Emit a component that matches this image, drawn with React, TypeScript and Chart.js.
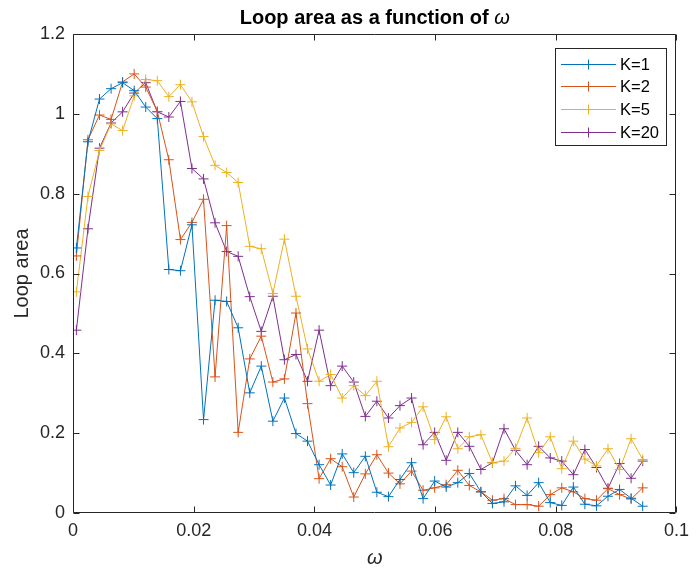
import React, { useEffect, useRef } from "react";
import { Chart, registerables } from "chart.js";

Chart.register(...registerables);

const omega = [
  0.00056, 0.00248, 0.00439, 0.00631, 0.00822, 0.01014, 0.01205, 0.01397, 0.01588, 0.0178,
  0.01971, 0.02163, 0.02354, 0.02546, 0.02737, 0.02929, 0.0312, 0.03312, 0.03503, 0.03695,
  0.03886, 0.04078, 0.04269, 0.04461, 0.04652, 0.04844, 0.05035, 0.05227, 0.05418, 0.0561,
  0.05801, 0.05993, 0.06184, 0.06376, 0.06567, 0.06759, 0.0695, 0.07142, 0.07333, 0.07525,
  0.07716, 0.07908, 0.08099, 0.08291, 0.08482, 0.08674, 0.08865, 0.09057, 0.09248, 0.0944,
];

const k1 = [
  0.664, 0.93, 1.037, 1.063, 1.078, 1.058, 1.017, 0.988, 0.61, 0.607,
  0.722, 0.234, 0.533, 0.53, 0.464, 0.301, 0.368, 0.23, 0.288, 0.199,
  0.18, 0.121, 0.07, 0.148, 0.101, 0.142, 0.052, 0.041, 0.084, 0.126,
  0.036, 0.08, 0.065, 0.076, 0.099, 0.053, 0.024, 0.028, 0.068, 0.044,
  0.076, 0.026, 0.019, 0.065, 0.022, 0.018, 0.042, 0.059, 0.037, 0.017,
];

const k2 = [
  0.644, 0.935, 0.997, 0.986, 1.08, 1.1, 1.067, 1.006, 0.885, 0.685,
  0.728, 0.786, 0.341, 0.72, 0.202, 0.386, 0.443, 0.328, 0.336, 0.501,
  0.274, 0.086, 0.136, 0.116, 0.04, 0.098, 0.146, 0.1, 0.073, 0.105,
  0.057, 0.063, 0.071, 0.107, 0.069, 0.053, 0.032, 0.036, 0.021, 0.021,
  0.017, 0.046, 0.063, 0.053, 0.036, 0.032, 0.061, 0.046, 0.035, 0.063,
];

const k5 = [
  0.554, 0.793, 0.908, 0.975, 0.958, 1.045, 1.086, 1.083, 1.043, 1.073,
  1.03, 0.943, 0.871, 0.853, 0.828, 0.668, 0.662, 0.55, 0.686, 0.543,
  0.411, 0.33, 0.347, 0.288, 0.319, 0.294, 0.33, 0.166, 0.213, 0.227,
  0.266, 0.184, 0.241, 0.161, 0.191, 0.196, 0.126, 0.13, 0.162, 0.238,
  0.151, 0.191, 0.111, 0.18, 0.135, 0.118, 0.161, 0.109, 0.186, 0.134,
];

const k20 = [
  0.458, 0.712, 0.914, 0.977, 1.005, 1.052, 1.078, 1.005, 0.992, 1.031,
  0.863, 0.837, 0.727, 0.655, 0.643, 0.542, 0.455, 0.543, 0.384, 0.397,
  0.33, 0.458, 0.319, 0.368, 0.328, 0.242, 0.28, 0.238, 0.269, 0.288,
  0.171, 0.202, 0.132, 0.202, 0.167, 0.109, 0.126, 0.211, 0.157, 0.121,
  0.167, 0.138, 0.13, 0.096, 0.159, 0.114, 0.062, 0.124, 0.087, 0.13,
];

const seriesLabels = ["K=1", "K=2", "K=5", "K=20"];
const seriesColors = ["#0072BD", "#D95319", "#EDB120", "#7E2F8E"];
const xTicks = [0, 0.02, 0.04, 0.06, 0.08, 0.1];
const yTicks = [0, 0.2, 0.4, 0.6, 0.8, 1, 1.2];

const AXIS = "#262626";
const FONT = "'Liberation Sans', Arial, Helvetica, sans-serif";

const decorPlugin = {
  id: "decor",
  afterDraw(chart: any) {
    const ctx = chart.ctx;
    const ca = chart.chartArea;
    const xs = chart.scales.x;
    const ys = chart.scales.y;
    ctx.save();
    ctx.strokeStyle = AXIS;
    ctx.lineWidth = 1;
    const L = Math.round(ca.left) + 0.5;
    const R = Math.round(ca.right) - 0.5;
    const T = Math.round(ca.top) + 0.5;
    const B = Math.round(ca.bottom) - 0.5;
    ctx.beginPath();
    ctx.rect(L, T, R - L, B - T);
    ctx.stroke();
    const tl = 6;
    ctx.beginPath();
    xTicks.forEach((v) => {
      const px = Math.round(xs.getPixelForValue(v)) + 0.5;
      ctx.moveTo(px, B);
      ctx.lineTo(px, B - tl);
      ctx.moveTo(px, T);
      ctx.lineTo(px, T + tl);
    });
    yTicks.forEach((v) => {
      const py = Math.round(ys.getPixelForValue(v)) + 0.5;
      ctx.moveTo(L, py);
      ctx.lineTo(L + tl, py);
      ctx.moveTo(R, py);
      ctx.lineTo(R - tl, py);
    });
    ctx.stroke();

    const cx = (ca.left + ca.right) / 2;
    ctx.fillStyle = "#000";
    ctx.textBaseline = "middle";
    const t1 = "Loop area as a function of ";
    ctx.font = `bold 20px ${FONT}`;
    const w1 = ctx.measureText(t1).width;
    ctx.font = `italic 20px ${FONT}`;
    const w2 = ctx.measureText("ω").width;
    const sx = cx - (w1 + w2) / 2;
    ctx.textAlign = "left";
    ctx.font = `bold 20px ${FONT}`;
    ctx.fillText(t1, sx, 18);
    ctx.font = `italic 20px ${FONT}`;
    ctx.fillText("ω", sx + w1, 18);

    ctx.fillStyle = AXIS;
    ctx.textAlign = "center";
    ctx.font = `italic 20px ${FONT}`;
    ctx.fillText("ω", cx, 558);

    ctx.save();
    ctx.translate(22, (ca.top + ca.bottom) / 2);
    ctx.rotate(-Math.PI / 2);
    ctx.font = `20px ${FONT}`;
    ctx.fillText("Loop area", 0, 0);
    ctx.restore();

    const lx = 555.5, ly = 48.5, lw = 111, lh = 97;
    ctx.fillStyle = "#fff";
    ctx.fillRect(lx, ly, lw, lh);
    ctx.strokeStyle = AXIS;
    ctx.strokeRect(lx, ly, lw, lh);
    const rows = [63.5, 86, 108.5, 131.5];
    seriesLabels.forEach((lab, i) => {
      const y = Math.round(rows[i]) + 0.5;
      ctx.strokeStyle = seriesColors[i];
      ctx.lineWidth = 1;
      ctx.beginPath();
      ctx.moveTo(561, y);
      ctx.lineTo(616, y);
      ctx.moveTo(588.5, y - 5);
      ctx.lineTo(588.5, y + 5);
      ctx.stroke();
      ctx.fillStyle = "#000";
      ctx.textAlign = "left";
      ctx.textBaseline = "middle";
      ctx.font = `16.5px ${FONT}`;
      ctx.fillText(lab, 620, y + 1);
    });
    ctx.restore();
  },
};

export default function App() {
  const ref = useRef<HTMLCanvasElement | null>(null);
  useEffect(() => {
    if (!ref.current) return;
    const all = [k1, k2, k5, k20];
    const chart = new Chart(ref.current, {
      type: "line",
      data: {
        datasets: all.map((arr, i) => ({
          label: seriesLabels[i],
          data: arr.map((v, j) => ({ x: omega[j], y: v })),
          borderColor: seriesColors[i],
          backgroundColor: seriesColors[i],
          borderWidth: 1,
          pointStyle: "cross",
          pointRadius: 5,
          pointBorderWidth: 1,
          pointBorderColor: seriesColors[i],
          tension: 0,
          fill: false,
        })),
      },
      options: {
        animation: false,
        responsive: false,
        maintainAspectRatio: false,
        layout: { padding: { top: 34, right: 15, left: 0, bottom: 0 } },
        plugins: {
          legend: { display: false },
          title: { display: false },
          tooltip: { enabled: false },
        },
        scales: {
          x: {
            type: "linear",
            min: 0,
            max: 0.1,
            grid: { display: false, drawTicks: false },
            border: { display: false },
            afterFit: (s: any) => {
              s.height = 62;
            },
            afterBuildTicks: (s: any) => {
              s.ticks = xTicks.map((v) => ({ value: v }));
            },
            ticks: {
              autoSkip: false,
              maxRotation: 0,
              padding: 7,
              color: AXIS,
              font: { family: FONT, size: 18 },
              callback: (v: any) => String(Number(Number(v).toFixed(2))),
            },
          },
          y: {
            type: "linear",
            min: 0,
            max: 1.2,
            grid: { display: false, drawTicks: false },
            border: { display: false },
            afterFit: (s: any) => {
              s.width = 73;
            },
            afterBuildTicks: (s: any) => {
              s.ticks = yTicks.map((v) => ({ value: v }));
            },
            ticks: {
              autoSkip: false,
              padding: 8,
              color: AXIS,
              font: { family: FONT, size: 18 },
              callback: (v: any) => String(Number(Number(v).toFixed(2))),
            },
          },
        },
      },
      plugins: [decorPlugin],
    });
    return () => chart.destroy();
  }, []);
  return (
    <div style={{ position: "fixed", left: 0, top: 0, width: 696, height: 575, background: "#fff" }}>
      <canvas ref={ref} width={696} height={575} style={{ width: 696, height: 575 }} />
    </div>
  );
}
